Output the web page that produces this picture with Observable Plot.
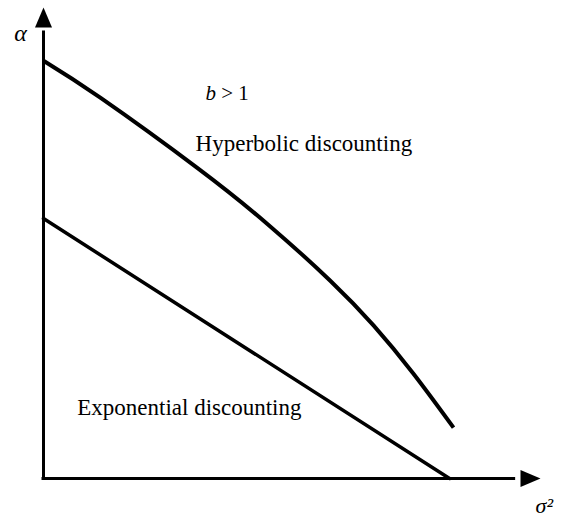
<!DOCTYPE html>
<html>
<head>
<meta charset="utf-8">
<script src="https://cdn.jsdelivr.net/npm/d3@7"></script>
<script src="https://cdn.jsdelivr.net/npm/@observablehq/plot@0.6"></script>
<style>
  html, body { margin: 0; padding: 0; background: #fff; }
  svg { display: block; }
</style>
</head>
<body>
<div id="chart"></div>
<script>
// Hyperbolic discounting boundary (b > 1) (axis units 0–100)
const hyperX = [0, 11.5, 31, 45.1, 57.7, 66.4, 74.4, 82.5];
const hyperY = [88.7, 80.8, 65.9, 54.0, 42.0, 32.5, 22.3, 10.8];
// Exponential discounting boundary (straight line)
const expoX = [0, 81.7];
const expoY = [55.2, 0];
// Text labels
const yLabel = "α";
const xLabel = "σ²";
const condLabel = "b > 1";
const hyperLabel = "Hyperbolic discounting";
const expoLabel = "Exponential discounting";

const hyper = hyperX.map((x, i) => ({x, y: hyperY[i]}));
const expo = expoX.map((x, i) => ({x, y: expoY[i]}));

// filled, elongated arrowhead with its tip at the anchor, pointing up
const arrowHead = {
  draw(ctx) {
    const w = 8.5, h = 20;
    ctx.moveTo(0, 0);
    ctx.lineTo(w, h);
    ctx.lineTo(-w, h);
    ctx.closePath();
  }
};

const font = "Liberation Serif, Times New Roman, serif";

const chart = Plot.plot({
  width: 564,
  height: 520,
  marginLeft: 43,
  marginRight: 24,
  marginTop: 7,
  marginBottom: 42,
  x: {domain: [0, 100], axis: null},
  y: {domain: [0, 100], axis: null},
  style: {fontFamily: font, background: "#fff"},
  marks: [
    // axes
    Plot.ruleX([0], {y1: 0, y2: 95, stroke: "black", strokeWidth: 3}),
    Plot.ruleY([0], {x1: -0.3, x2: 95, stroke: "black", strokeWidth: 3}),
    Plot.dot([{x: 0, y: 100}], {x: "x", y: "y", symbol: arrowHead, fill: "black", stroke: "none"}),
    Plot.dot([{x: 100, y: 0}], {x: "x", y: "y", symbol: arrowHead, rotate: 90, fill: "black", stroke: "none"}),
    // curves
    Plot.line(hyper, {x: "x", y: "y", curve: "natural", stroke: "black", strokeWidth: 4, strokeLinecap: "butt"}),
    Plot.line(expo, {x: "x", y: "y", stroke: "black", strokeWidth: 3.5}),
    // labels
    Plot.text([yLabel], {x: -4.6, y: 94.5, text: d => d, fontSize: 24, fontStyle: "italic", fill: "black", lineAnchor: "middle"}),
    Plot.text([xLabel], {x: 99.0, y: -5.9, text: d => d, fontSize: 22, fontStyle: "italic", fill: "black", textAnchor: "start", lineAnchor: "middle"}),
    Plot.text([condLabel], {x: 32.6, y: 81.7, text: d => d, fontSize: 21, fill: "black", textAnchor: "start", lineAnchor: "middle"}),
    Plot.text([hyperLabel], {x: 30.6, y: 71.1, text: d => d, fontSize: 23, fill: "black", textAnchor: "start", lineAnchor: "middle"}),
    Plot.text([expoLabel], {x: 6.8, y: 15.1, text: d => d, fontSize: 23, fill: "black", textAnchor: "start", lineAnchor: "middle"})
  ]
});
document.getElementById("chart").append(chart);
// italic b in the condition label
chart.querySelectorAll("text").forEach(t => {
  if (t.textContent === condLabel) {
    t.textContent = "";
    const ns = "http://www.w3.org/2000/svg";
    const b = document.createElementNS(ns, "tspan");
    b.setAttribute("font-style", "italic");
    b.textContent = "b";
    const rest = document.createElementNS(ns, "tspan");
    rest.textContent = " > 1";
    t.append(b, rest);
  }
});
</script>
</body>
</html>
